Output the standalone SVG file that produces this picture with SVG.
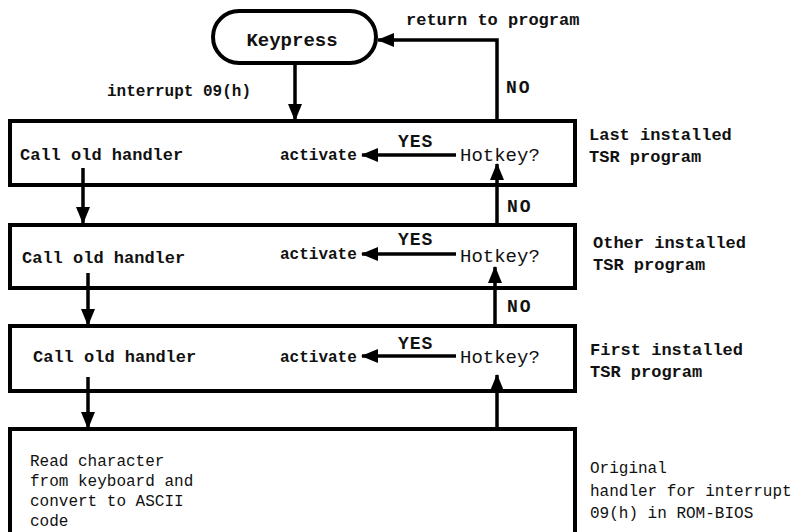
<svg xmlns="http://www.w3.org/2000/svg" width="800" height="532" viewBox="0 0 800 532">
<style>
.box{fill:none;stroke:#000;stroke-width:4}
.ln{fill:none;stroke:#000;stroke-width:3.5}
text{font-family:"Liberation Mono","Courier New",monospace;fill:#111}
.b{font-weight:bold}
.t17{font-size:17px}
.t16{font-size:16px}
.hk{font-size:19px}
.yn{font-size:18px;font-weight:bold}
</style>
<defs>
<marker id="ah" markerUnits="userSpaceOnUse" markerWidth="18" markerHeight="16" refX="16" refY="8" orient="auto">
<path d="M0,1 L17,8 L0,15 Z" fill="#000"/>
</marker>
</defs>
<rect width="800" height="532" fill="#fff"/>

<g id="keypress">
<rect class="box" x="213" y="11" width="163" height="52" rx="26" ry="26"/>
<text class="b" x="292" y="46" font-size="19" text-anchor="middle">Keypress</text>
</g>

<g id="box1">
<rect class="box" x="10" y="121" width="565" height="64"/>
<text class="t17 b" x="20" y="160">Call old handler</text>
<text class="t16 b" x="280" y="160">activate</text>
<text class="hk" x="460" y="161">Hotkey?</text>
</g>
<g id="box2">
<rect class="box" x="10" y="225" width="565" height="63"/>
<text class="t17 b" x="22" y="263">Call old handler</text>
<text class="t16 b" x="280" y="259">activate</text>
<text class="hk" x="460" y="262">Hotkey?</text>
</g>
<g id="box3">
<rect class="box" x="10" y="326" width="565" height="65"/>
<text class="t17 b" x="33" y="362">Call old handler</text>
<text class="t16 b" x="280" y="362">activate</text>
<text class="hk" x="460" y="363">Hotkey?</text>
</g>
<g id="box4">
<rect class="box" x="10" y="429" width="565" height="130"/>
<text class="t16" x="30" y="466">Read character</text>
<text class="t16" x="30" y="486">from keyboard and</text>
<text class="t16" x="30" y="506">convert to ASCII</text>
<text class="t16" x="30" y="526">code</text>
</g>

<g id="side-labels">
<text class="t17 b" x="589" y="140">Last installed</text>
<text class="t17 b" x="589" y="162">TSR program</text>
<text class="t17 b" x="593" y="248">Other installed</text>
<text class="t17 b" x="593" y="270">TSR program</text>
<text class="t17 b" x="590" y="355">First installed</text>
<text class="t17 b" x="590" y="377">TSR program</text>
<text class="t16" x="590" y="473">Original</text>
<text class="t16" x="590" y="496">handler for interrupt</text>
<text class="t16" x="590" y="518">09(h) in ROM-BIOS</text>
</g>

<g id="connectors">
<path class="ln" d="M295 63 V120" marker-end="url(#ah)"/>
<path class="ln" d="M497 122 V40 H378" marker-end="url(#ah)"/>
<path class="ln" d="M497 225 V164" marker-end="url(#ah)"/>
<path class="ln" d="M495 326 V267" marker-end="url(#ah)"/>
<path class="ln" d="M497 429 V375" marker-end="url(#ah)"/>
<path class="ln" d="M83 168 V223" marker-end="url(#ah)"/>
<path class="ln" d="M88 273 V325" marker-end="url(#ah)"/>
<path class="ln" d="M88 377 V428" marker-end="url(#ah)"/>
<path class="ln" d="M456 155 H362" marker-end="url(#ah)"/>
<path class="ln" d="M456 254 H362" marker-end="url(#ah)"/>
<path class="ln" d="M456 356 H362" marker-end="url(#ah)"/>
<text class="t16 b" x="107" y="96">interrupt 09(h)</text>
<text class="t17 b" x="406" y="25">return to program</text>
<text class="yn" x="506" y="93" letter-spacing="2">NO</text>
<text class="yn" x="507" y="212" letter-spacing="2">NO</text>
<text class="yn" x="507" y="312" letter-spacing="2">NO</text>
<text class="yn" x="398" y="147" letter-spacing="1">YES</text>
<text class="yn" x="398" y="245" letter-spacing="1">YES</text>
<text class="yn" x="398" y="349" letter-spacing="1">YES</text>
</g>
</svg>
